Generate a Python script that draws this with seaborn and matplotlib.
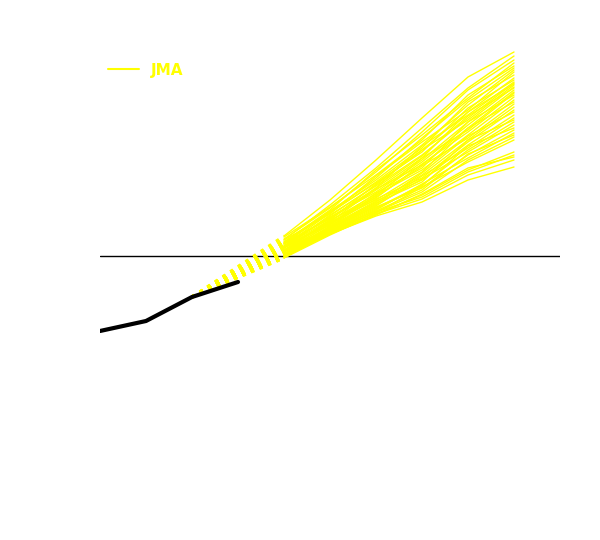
import numpy as np
import pandas as pd
import matplotlib
matplotlib.use('Agg')
import matplotlib.pyplot as plt
import seaborn as sns
from matplotlib.lines import Line2D

# observed anomaly (black) at steps 0..3
obs_steps = [0, 1, 2, 3]
obs_values = [-0.75, -0.65, -0.41, -0.26]

# ensemble forecast members (JMA) at steps 4..9
fc_steps = [4, 5, 6, 7, 8, 9]
members = [
    [0.20, 0.56, 0.96, 1.38, 1.79, 2.04],
    [0.16, 0.51, 0.88, 1.28, 1.68, 2.00],
    [0.17, 0.48, 0.84, 1.24, 1.66, 1.96],
    [0.14, 0.46, 0.86, 1.21, 1.58, 1.93],
    [0.19, 0.49, 0.81, 1.16, 1.61, 1.90],
    [0.12, 0.44, 0.78, 1.18, 1.56, 1.88],
    [0.13, 0.45, 0.76, 1.11, 1.51, 1.86],
    [0.16, 0.42, 0.80, 1.14, 1.46, 1.84],
    [0.10, 0.43, 0.74, 1.08, 1.54, 1.81],
    [0.09, 0.40, 0.71, 1.06, 1.44, 1.78],
    [0.14, 0.44, 0.73, 1.04, 1.48, 1.76],
    [0.12, 0.38, 0.68, 1.10, 1.41, 1.74],
    [0.08, 0.41, 0.70, 1.01, 1.38, 1.73],
    [0.13, 0.37, 0.66, 0.98, 1.44, 1.72],
    [0.06, 0.36, 0.72, 1.06, 1.36, 1.71],
    [0.10, 0.39, 0.64, 0.96, 1.34, 1.69],
    [0.09, 0.34, 0.68, 1.00, 1.40, 1.68],
    [0.05, 0.35, 0.62, 0.94, 1.31, 1.66],
    [0.12, 0.38, 0.67, 0.91, 1.28, 1.64],
    [0.08, 0.33, 0.60, 0.98, 1.26, 1.63],
    [0.04, 0.32, 0.63, 0.88, 1.34, 1.61],
    [0.10, 0.36, 0.58, 0.92, 1.24, 1.59],
    [0.06, 0.31, 0.61, 0.86, 1.21, 1.56],
    [0.09, 0.34, 0.56, 0.84, 1.28, 1.54],
    [0.02, 0.30, 0.59, 0.90, 1.18, 1.52],
    [0.05, 0.29, 0.54, 0.81, 1.16, 1.49],
    [0.08, 0.32, 0.57, 0.78, 1.14, 1.46],
    [0.04, 0.28, 0.52, 0.83, 1.20, 1.44],
    [0.01, 0.30, 0.55, 0.76, 1.11, 1.41],
    [0.06, 0.27, 0.50, 0.80, 1.08, 1.38],
    [0.02, 0.29, 0.53, 0.74, 1.16, 1.36],
    [0.05, 0.26, 0.48, 0.71, 1.06, 1.34],
    [-0.01, 0.28, 0.51, 0.77, 1.04, 1.31],
    [0.04, 0.25, 0.47, 0.70, 1.10, 1.28],
    [0.01, 0.27, 0.49, 0.68, 1.01, 1.26],
    [0.02, 0.24, 0.46, 0.72, 0.98, 1.23],
    [-0.01, 0.26, 0.45, 0.66, 1.02, 1.21],
    [0.01, 0.23, 0.44, 0.64, 0.96, 1.19],
    [-0.02, 0.25, 0.43, 0.69, 0.94, 1.16],
    [0.01, 0.23, 0.42, 0.61, 0.86, 1.04],
    [-0.01, 0.24, 0.44, 0.59, 0.84, 1.01],
    [0.02, 0.22, 0.41, 0.62, 0.88, 0.99],
    [-0.02, 0.21, 0.42, 0.57, 0.81, 0.96],
    [-0.01, 0.22, 0.40, 0.54, 0.76, 0.89],
]

# long-form table for seaborn
rows = []
for m, vals in enumerate(members):
    for s, v in zip(fc_steps, vals):
        rows.append({'member': m, 'step': s, 'value': v})
df_fc = pd.DataFrame(rows)
df_obs = pd.DataFrame({'step': obs_steps, 'value': obs_values})

sns.set_style('white')
fig = plt.figure(figsize=(6, 5.4), dpi=100)
ax = fig.add_axes([100 / 600, 44 / 540, 460 / 600, 460 / 540])

# forecast spaghetti
sns.lineplot(data=df_fc, x='step', y='value', units='member', estimator=None,
             color='yellow', linewidth=1.0, ax=ax, zorder=2)

# dashed connectors from observation to each member's first step
for vals in members:
    ax.plot([obs_steps[2], fc_steps[0]], [obs_values[2], vals[0]],
            color='yellow', linewidth=2.2, dashes=(1.1, 1.9), zorder=1)

# observations
sns.lineplot(data=df_obs, x='step', y='value', color='black',
             linewidth=3, ax=ax, zorder=3)

ax.axhline(0, color='black', linewidth=1, zorder=0)

ax.set_xlim(0, 10)
ax.set_ylim(-2.4, 2.2)
ax.axis('off')

handle = Line2D([], [], color='yellow', linewidth=1.5)
leg = ax.legend([handle], ['JMA'], loc='upper left', bbox_to_anchor=(0.004, 0.955),
                borderaxespad=0, frameon=False,
                prop={'weight': 'bold', 'size': 11}, labelcolor='yellow')

fig.savefig('out.png', dpi=100)
